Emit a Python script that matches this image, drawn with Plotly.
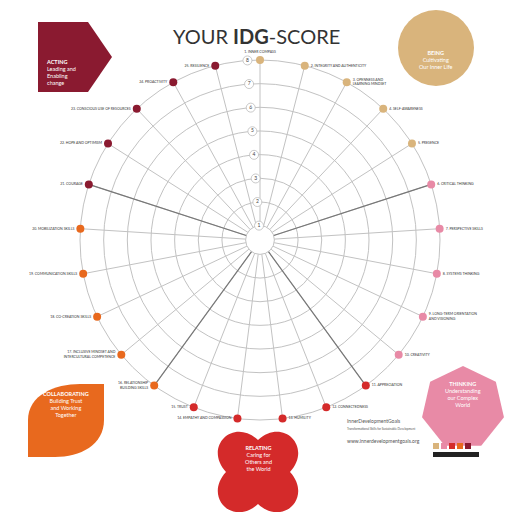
import plotly.graph_objects as go
import math

skills = ["1. INNER COMPASS", "2. INTEGRITY AND AUTHENTICITY", "3. OPENNESS AND<br>LEARNING MINDSET",
          "4. SELF-AWARENESS", "5. PRESENCE", "6. CRITICAL THINKING", "7. PERSPECTIVE SKILLS",
          "8. SYSTEMS THINKING", "9. LONG-TERM ORIENTATION<br>AND VISIONING", "10. CREATIVITY",
          "11. APPRECIATION", "12. CONNECTEDNESS", "13. HUMILITY", "14. EMPATHY AND COMPASSION",
          "15. TRUST", "16. RELATIONSHIP<br>BUILDING SKILLS", "17. INCLUSIVE MINDSET AND<br>INTERCULTURAL COMPETENCE",
          "18. CO-CREATION SKILLS", "19. COMMUNICATION SKILLS", "20. MOBILIZATION SKILLS",
          "21. COURAGE", "22. HOPE AND OPTIMISM", "23. CONSCIOUS USE OF RESOURCES", "24. PROACTIVITY",
          "25. RESILIENCE"]
dimension = ["Being"]*5 + ["Thinking"]*5 + ["Relating"]*5 + ["Collaborating"]*5 + ["Acting"]*5
colors = {"Being": "#d9b47c", "Thinking": "#e88aa6", "Relating": "#d42a2a",
          "Collaborating": "#e8691e", "Acting": "#8a1a30"}
score = [8]*25
ticks = [1, 2, 3, 4, 5, 6, 7, 8]
boundary = [5, 10, 15, 20]

n = len(skills)
theta = [i*360/n for i in range(n)]

W = H = 512
def px(x): return x/W
def py(y): return 1-y/H

fig = go.Figure()
for b in boundary:
    fig.add_trace(go.Scatterpolar(r=[1, 8], theta=[theta[b], theta[b]], mode="lines",
                                  line=dict(color="#777", width=1.2), hoverinfo="skip", showlegend=False))
pos = []
for t in theta:
    if t < 1 or t > 359: pos.append("top center")
    elif t < 180: pos.append("middle right")
    else: pos.append("middle left")
fig.add_trace(go.Scatterpolar(r=score, theta=theta, mode="markers+text",
                              text=skills, textposition=pos,
                              textfont=dict(size=3.5, color="#333", family="Lato"),
                              marker=dict(size=8, color=[colors[d] for d in dimension], line=dict(width=0)),
                              showlegend=False, cliponaxis=False))
fig.add_trace(go.Scatterpolar(r=ticks, theta=[-4]*len(ticks), mode="markers+text",
                              text=[str(t) for t in ticks], textposition="middle center",
                              textfont=dict(size=5, color="#444"),
                              marker=dict(size=9, color="white", line=dict(color="#bbb", width=0.8)),
                              showlegend=False, cliponaxis=False, hoverinfo="skip"))

fig.update_layout(
    width=W, height=H, margin=dict(l=0, r=0, t=0, b=0), paper_bgcolor="white",
    polar=dict(domain=dict(x=[px(80), px(440)], y=[py(420), py(60)]), hole=0.08, bgcolor="white",
               radialaxis=dict(range=[1, 8], tickvals=ticks, showline=False, gridcolor="#c2c2c2",
                               gridwidth=0.8, showticklabels=False, ticks="", layer="below traces"),
               angularaxis=dict(direction="clockwise", rotation=90, tickvals=theta, showticklabels=False,
                                gridcolor="#c2c2c2", gridwidth=0.8, linecolor="#c2c2c2", ticks="",
                                layer="below traces")),
    font=dict(family="Lato"))

fig.add_annotation(x=0.5, y=py(22), xref="paper", yref="paper", showarrow=False,
                   text="YOUR <b>IDG</b>-SCORE", font=dict(size=20, color="#333", family="Lato"))

shapes = []
shapes.append(dict(type="path", xref="paper", yref="paper",
                   path=f"M {px(38)} {py(22)} L {px(88)} {py(22)} L {px(112)} {py(57)} L {px(88)} {py(92)} L {px(38)} {py(92)} Z",
                   fillcolor=colors["Acting"], line=dict(width=0)))
shapes.append(dict(type="circle", xref="paper", yref="paper", x0=px(398), x1=px(474), y0=py(10), y1=py(86),
                   fillcolor=colors["Being"], line=dict(width=0)))
cx, cy, R = 463, 408, 42
pts = [(cx + R*math.sin(2*math.pi*k/7), cy - R*math.cos(2*math.pi*k/7)) for k in range(7)]
shapes.append(dict(type="path", xref="paper", yref="paper",
                   path="M " + " L ".join(f"{px(x)} {py(y)}" for x, y in pts) + " Z",
                   fillcolor=colors["Thinking"], line=dict(width=0)))
cx, cy = 258, 472
path = f"M {px(cx)} {py(cy-32)} C {px(cx+25)} {py(cy-55)}, {px(cx+55)} {py(cy-25)}, {px(cx+32)} {py(cy)} " \
       f"C {px(cx+55)} {py(cy+25)}, {px(cx+25)} {py(cy+55)}, {px(cx)} {py(cy+32)} " \
       f"C {px(cx-25)} {py(cy+55)}, {px(cx-55)} {py(cy+25)}, {px(cx-32)} {py(cy)} " \
       f"C {px(cx-55)} {py(cy-25)}, {px(cx-25)} {py(cy-55)}, {px(cx)} {py(cy-32)} Z"
shapes.append(dict(type="path", xref="paper", yref="paper", path=path,
                   fillcolor=colors["Relating"], line=dict(width=0)))
path = f"M {px(28)} {py(457)} L {px(28)} {py(420)} C {px(28)} {py(395)}, {px(55)} {py(384)}, {px(80)} {py(384)} " \
       f"L {px(104)} {py(384)} L {px(104)} {py(420)} C {px(104)} {py(445)}, {px(80)} {py(457)}, {px(55)} {py(457)} Z"
shapes.append(dict(type="path", xref="paper", yref="paper", path=path,
                   fillcolor=colors["Collaborating"], line=dict(width=0)))
fig.update_layout(shapes=shapes)

labels = [(44, 57, "<b>ACTING</b><br>Leading and<br>Enabling<br>change", "left"),
          (436, 48, "<b>BEING</b><br>Cultivating<br>Our Inner Life", "center"),
          (463, 410, "<b>THINKING</b><br>Understanding<br>our Complex<br>World", "center"),
          (258, 474, "<b>RELATING</b><br>Caring for<br>Others and<br>the World", "center"),
          (66, 420, "<b>COLLABORATING</b><br>Building Trust<br>and Working<br>Together", "center")]
for x, y, t, al in labels:
    fig.add_annotation(x=px(x), y=py(y), xref="paper", yref="paper",
                       xanchor="left" if al == "left" else "center", align=al,
                       showarrow=False, text=t, font=dict(size=5.5, color="white"))

fig.add_annotation(x=px(345), y=py(446), xref="paper", yref="paper", xanchor="left", showarrow=False,
                   text="InnerDevelopmentGoals<br><span style='font-size:3px'>Transformational Skills for Sustainable Development</span><br><br>www.innerdevelopmentgoals.org",
                   font=dict(size=5, color="#555"), align="left")
logo_cols = [colors["Being"], colors["Thinking"], colors["Relating"], colors["Collaborating"], colors["Acting"]]
for i, c in enumerate(logo_cols):
    fig.add_shape(type="rect", xref="paper", yref="paper", x0=px(433+i*8), x1=px(439+i*8),
                  y0=py(449), y1=py(443), fillcolor=c, line=dict(width=0))
fig.add_shape(type="rect", xref="paper", yref="paper", x0=px(433), x1=px(479), y0=py(457), y1=py(452),
              fillcolor="#222", line=dict(width=0))

fig.write_html("out.html", config={"displayModeBar": False},
               post_script="document.body.style.margin='0';document.body.style.overflow='hidden';")
